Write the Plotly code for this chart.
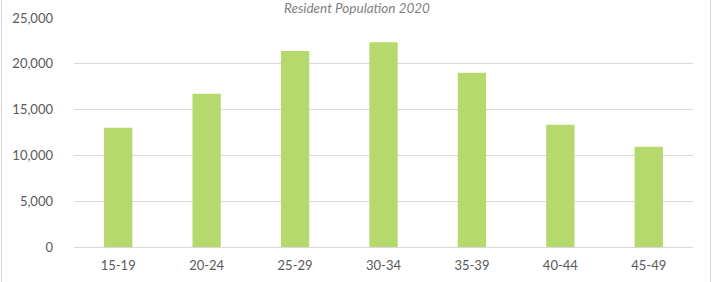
import plotly.graph_objects as go

age_groups = ["15-19", "20-24", "25-29", "30-34", "35-39", "40-44", "45-49"]
population = [13020, 16740, 21400, 22340, 19030, 13350, 10950]
y_ticks = [0, 5000, 10000, 15000, 20000, 25000]
title_text = "Resident Population 2020"

W, H = 716, 282
ml, mr, mt, mb = 74, 23, 18, 35
pw, ph = W - ml - mr, H - mt - mb

fig = go.Figure(go.Bar(
    x=age_groups, y=population,
    marker=dict(color="#b5d96c", line=dict(width=0)),
    hoverinfo="x+y",
))

fig.update_layout(
    width=W, height=H,
    margin=dict(l=ml, r=mr, t=mt, b=mb, autoexpand=False),
    paper_bgcolor="white", plot_bgcolor="white",
    bargap=0.68,
    showlegend=False,
    font=dict(family="Lato", size=13, color="#595959"),
    title=dict(text=title_text, x=357 / W, xanchor="center", xref="container",
               y=1 - 8.5 / H, yanchor="middle", yref="container",
               font=dict(family="Lato", size=13.5, color="#7f7f7f", style="italic")),
    xaxis=dict(showgrid=False, showline=False, ticks="", ticklabelstandoff=9,
               tickfont=dict(size=13, color="#595959")),
    yaxis=dict(range=[0, 25000], tickvals=y_ticks, tickformat=",d",
               showgrid=True, gridcolor="#d9d9d9", gridwidth=1,
               zeroline=True, zerolinecolor="#d9d9d9", zerolinewidth=1,
               showline=False, ticks="", ticklabelstandoff=20,
               tickfont=dict(size=13, color="#595959")),
    shapes=[
        dict(type="line", xref="paper", yref="paper",
             x0=(1.5 - ml) / pw, x1=(1.5 - ml) / pw, y0=-(mb + 5) / ph, y1=(ph + mt + 5) / ph,
             line=dict(color="#d9d9d9", width=1)),
        dict(type="line", xref="paper", yref="paper",
             x0=(710.5 - ml) / pw, x1=(710.5 - ml) / pw, y0=-(mb + 5) / ph, y1=(ph + mt + 5) / ph,
             line=dict(color="#d9d9d9", width=1)),
    ],
)

fig.write_html("out.html", config={"displayModeBar": False},
               post_script="document.body.style.margin='0';document.body.style.overflow='hidden';")
